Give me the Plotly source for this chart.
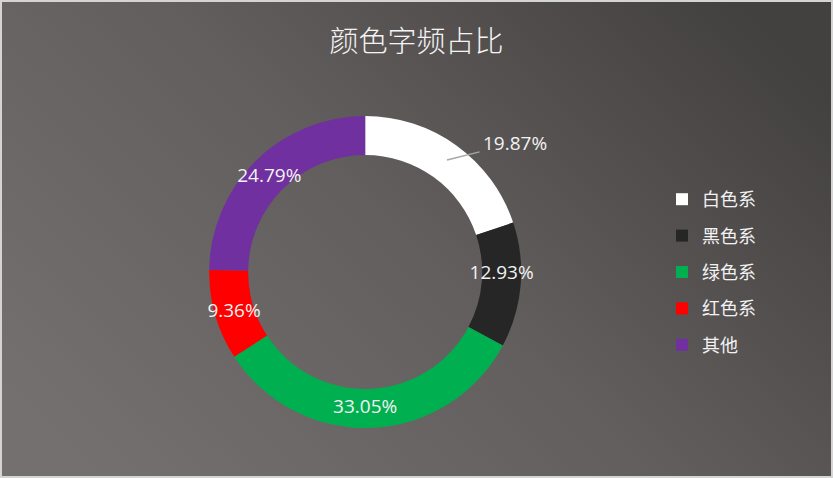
import base64
import plotly.graph_objects as go

# Data
labels = ["白色系", "黑色系", "绿色系", "红色系", "其他"]
shares = [19.87, 12.93, 33.05, 9.36, 24.79]
slice_colors = ["#ffffff", "#262626", "#00b050", "#ff0000", "#7030a0"]
# first slice gets an outside callout (annotation below), rest sit on the ring
text_positions = ["none", "inside", "inside", "inside", "inside"]

W, H = 833, 478
M = dict(l=50, r=50, t=116, b=50)
pw = W - M["l"] - M["r"]
ph = H - M["t"] - M["b"]


def px_x(x):
    return (x - M["l"]) / pw


def px_y(y):
    return 1 - (y - M["t"]) / ph


# gradient backdrop as an svg image (light bottom-left -> dark top-right)
svg = (
    '<svg xmlns="http://www.w3.org/2000/svg" width="833" height="478" preserveAspectRatio="none">'
    '<defs><linearGradient id="g" x1="0" y1="0.8" x2="1" y2="0.2">'
    '<stop offset="0" stop-color="#74706f"/>'
    '<stop offset="0.5" stop-color="#625e5d"/>'
    '<stop offset="1" stop-color="#434040"/>'
    '</linearGradient></defs>'
    '<rect width="833" height="478" fill="url(#g)"/></svg>'
)
bg_src = "data:image/svg+xml;base64," + base64.b64encode(svg.encode()).decode()

fig = go.Figure()

fig.add_trace(go.Pie(
    labels=labels,
    values=shares,
    hole=0.75,
    sort=False,
    direction="clockwise",
    rotation=0,
    marker=dict(colors=slice_colors, line=dict(width=0)),
    texttemplate="%{value:.2f}%",
    textposition=text_positions,
    insidetextorientation="horizontal",
    textfont=dict(family="Open Sans, Noto Sans", size=19, color="#f2f2f2"),
    domain=dict(x=[0.2, 0.66], y=[0, 1]),
    showlegend=False,
    hoverinfo="label+percent",
))

# legend entries as separate groups so the row spacing can be opened up
for name, col in zip(labels, slice_colors):
    fig.add_trace(go.Scatter(
        x=[None], y=[None], mode="markers", name=name, legendgroup=name,
        marker=dict(symbol="square", size=12, color=col, line=dict(width=0)),
    ))

x0 = -M["l"] / pw
x1 = 1 + M["r"] / pw
y0 = -M["b"] / ph
y1 = 1 + M["t"] / ph

fig.update_layout(
    width=W, height=H,
    margin=M,
    paper_bgcolor="#5e5a59",
    plot_bgcolor="rgba(0,0,0,0)",
    uniformtext=dict(minsize=19, mode="show"),
    title=dict(
        text="颜色字频占比",
        x=0.5, xref="container", xanchor="center",
        y=1 - 42 / H, yref="container", yanchor="middle",
        font=dict(family="Noto Sans CJK SC", size=29, color="#f4f4f4", weight=300),
    ),
    showlegend=True,
    legend=dict(
        x=px_x(662), xanchor="left",
        y=0.5, yanchor="middle",
        font=dict(family="Noto Sans CJK SC", size=18, color="#f2f2f2"),
        bgcolor="rgba(0,0,0,0)",
        tracegroupgap=10,
        itemwidth=30,
    ),
    xaxis=dict(visible=False),
    yaxis=dict(visible=False),
    annotations=[dict(
        text=f"{shares[0]:.2f}%",
        xref="paper", yref="paper",
        x=px_x(447), y=px_y(160),
        ax=68, ay=-17,
        showarrow=True, arrowhead=0, arrowwidth=1.5, arrowcolor="#a6a6a6",
        standoff=0, startstandoff=2,
        font=dict(family="Open Sans, Noto Sans", size=19, color="#f2f2f2"),
    )],
    images=[dict(
        source=bg_src, xref="paper", yref="paper",
        x=x0, y=y1, sizex=x1 - x0, sizey=y1 - y0,
        xanchor="left", yanchor="top", sizing="stretch", layer="below",
    )],
    shapes=[dict(
        type="rect", xref="paper", yref="paper",
        x0=x0, x1=x1, y0=y0, y1=y1,
        line=dict(color="#d4d4d4", width=4),
    )],
)

fig.write_html(
    "out.html",
    config={"displayModeBar": False},
    post_script="document.body.style.margin='0';",
)
